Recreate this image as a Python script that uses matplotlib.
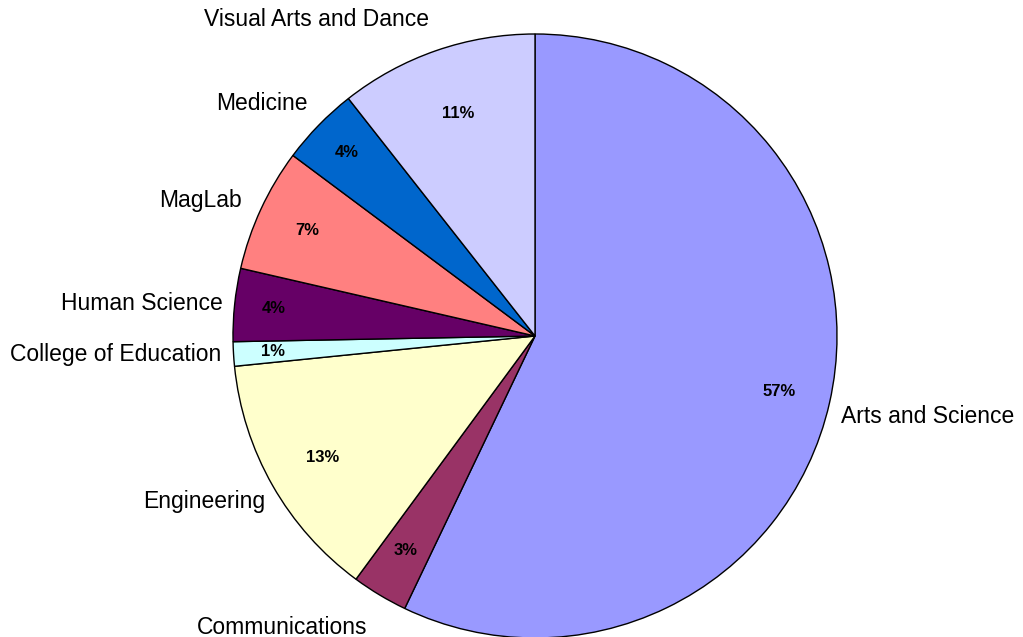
import matplotlib
matplotlib.use("Agg")
import matplotlib.pyplot as plt
import numpy as np

categories = ["Arts and Science", "Communications", "Engineering", "College of Education",
              "Human Science", "MagLab", "Medicine", "Visual Arts and Dance"]
values = [57.1, 3.0, 13.3, 1.3, 3.9, 6.6, 4.2, 10.6]
colors = ["#9999FF", "#993366", "#FFFFCC", "#CCFFFF", "#660066", "#FF8080", "#0066CC", "#CCCCFF"]
label_dist = [1.04, 1.08, 1.03, 1.04, 1.04, 1.07, 1.05, 1.07]
pct_dist = [0.83, 0.83, 0.81, 0.87, 0.87, 0.83, 0.87, 0.78]

plt.rcParams['font.family'] = ['Liberation Sans', 'DejaVu Sans']

W, H = 1023, 637
fig = plt.figure(figsize=(W / 100, H / 100), dpi=100)
ax = fig.add_axes([0, 0, 1, 1])
cx, cy, r = 535, H - 336, 302

wedges, _, autotexts = ax.pie(values, colors=colors, startangle=90, counterclock=False,
                              center=(cx, cy), radius=r, frame=True,
                              autopct=lambda p: f"{p:.0f}%", pctdistance=0.82,
                              wedgeprops=dict(edgecolor="black", linewidth=1.0))

for w, t, name, d, pd in zip(wedges, autotexts, categories, label_dist, pct_dist):
    ang = np.deg2rad((w.theta1 + w.theta2) / 2)
    c, s = np.cos(ang), np.sin(ang)
    t.set_position((cx + r * pd * c, cy + r * pd * s))
    t.set_fontsize(12)
    t.set_fontweight("bold")
    t.set_color("black")
    x = cx + r * d * c
    y = cy + r * d * s
    ha = "left" if c > 0 else "right"
    va = "bottom" if s > 0.5 else ("top" if s < -0.2 else "center")
    ax.text(x, y, name, ha=ha, va=va, fontsize=16.5, color="black")

ax.set_xlim(0, W)
ax.set_ylim(0, H)
ax.axis("off")
fig.savefig("out.png", dpi=100)
